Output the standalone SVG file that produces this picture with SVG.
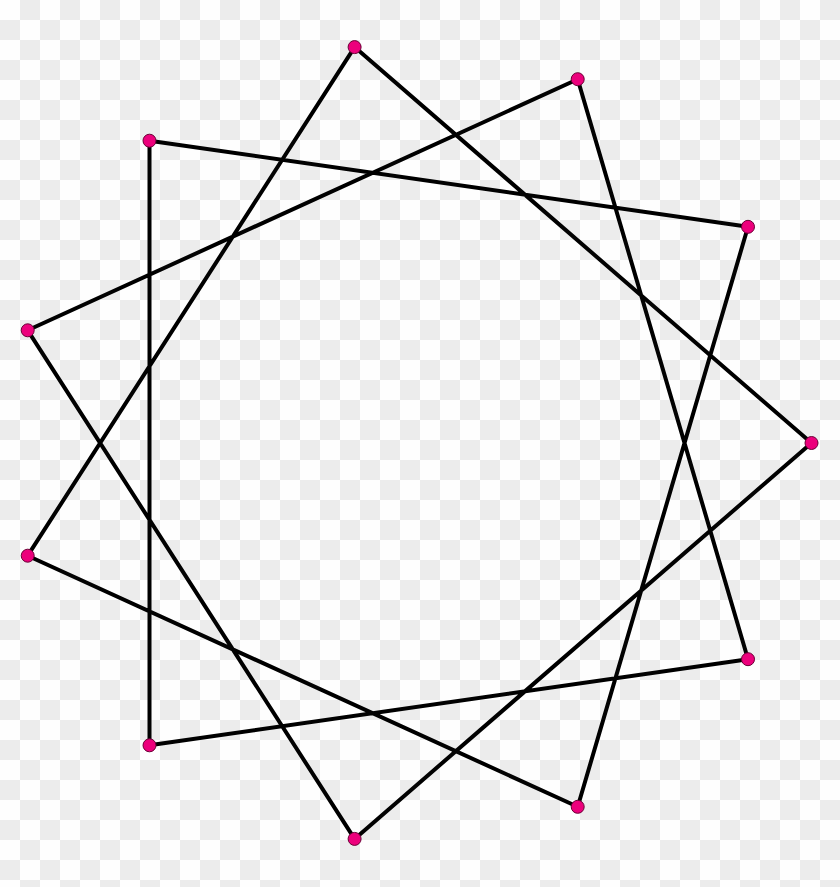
<svg xmlns="http://www.w3.org/2000/svg" width="840" height="887" viewBox="0 0 840 887">
<defs>
<pattern id="checker" x="0" y="0" width="40" height="40" patternUnits="userSpaceOnUse">
<rect x="0" y="0" width="40" height="40" fill="#fefefe"/>
<rect x="20" y="0" width="20" height="20" fill="#ececec"/>
<rect x="0" y="20" width="20" height="20" fill="#ececec"/>
</pattern>
<style>
.edge{fill:none;stroke:#000;stroke-width:4;stroke-linejoin:round}
.vtx{fill:#ec007c;stroke:#6a0035;stroke-width:1}
</style>
</defs>
<rect x="0" y="0" width="840" height="887" fill="url(#checker)"/>
<g id="connectors">
<polygon class="edge" points="811.5,443 354.6,838.9 27.7,330.3 577.7,79.2 748,659.2 149.5,745.3 149.5,140.7 748,226.8 577.7,806.8 27.7,555.7 354.6,47.1"/>
</g>
<g id="v0"><circle class="vtx" cx="811.5" cy="443" r="6.5"/></g>
<g id="v1"><circle class="vtx" cx="748" cy="659.2" r="6.5"/></g>
<g id="v2"><circle class="vtx" cx="577.7" cy="806.8" r="6.5"/></g>
<g id="v3"><circle class="vtx" cx="354.6" cy="838.9" r="6.5"/></g>
<g id="v4"><circle class="vtx" cx="149.5" cy="745.3" r="6.5"/></g>
<g id="v5"><circle class="vtx" cx="27.7" cy="555.7" r="6.5"/></g>
<g id="v6"><circle class="vtx" cx="27.7" cy="330.3" r="6.5"/></g>
<g id="v7"><circle class="vtx" cx="149.5" cy="140.7" r="6.5"/></g>
<g id="v8"><circle class="vtx" cx="354.6" cy="47.1" r="6.5"/></g>
<g id="v9"><circle class="vtx" cx="577.7" cy="79.2" r="6.5"/></g>
<g id="v10"><circle class="vtx" cx="748" cy="226.8" r="6.5"/></g>
</svg>
